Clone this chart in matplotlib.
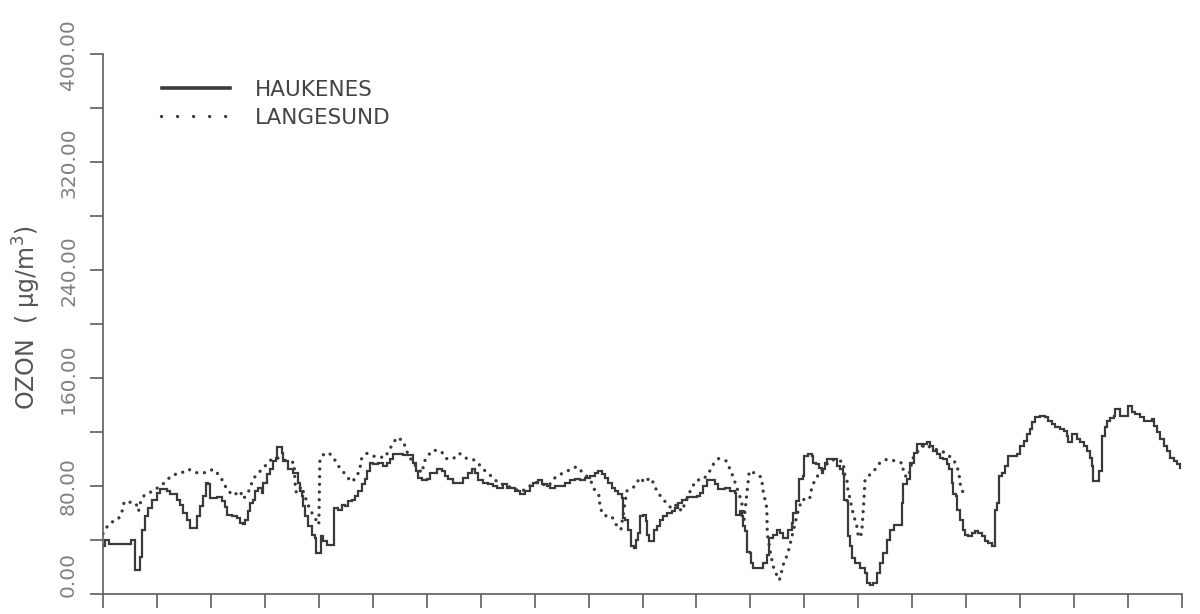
import matplotlib
matplotlib.use("Agg")
import matplotlib.pyplot as plt
import matplotlib.transforms as mtransforms
from matplotlib.lines import Line2D

# Hourly ozone record over 20 days (x in hours from start)
hauk_hours = [
    0, 0.7, 2.8, 12, 12.6, 14.2, 16.5, 17.5, 18.7, 20.2, 21.7, 23.9, 25.4, 28.3, 29.8,
    32.8, 34.3, 35.7, 37.2, 38.7, 40.9, 41.7, 43.2, 44.6, 45.8, 46.9, 47.6, 49.1, 50.6,
    52.8, 54.3, 55, 57.2, 59.5, 61, 62.4, 63.2, 64.6, 65.4, 66.9, 67.6, 69.1, 70.6, 71.3,
    72.8, 74.3, 75.8, 77, 77.6, 79.5, 80.2, 82.4, 84.7, 86.9, 87.6, 88.4, 89.1, 89.9,
    91.3, 92.8, 94.3, 94.8, 96.8, 98, 99.5, 102.9, 104.7, 106.2, 107.7, 109.1, 110.6,
    112.1, 113.6, 115.1, 116.6, 117.6, 118.8, 120.3, 122.5, 124.7, 126.2, 127.7, 129.2,
    133.6, 138.1, 139.3, 140.3, 141.8, 144, 145.5, 148.5, 150.7, 152.2, 153.6, 155.9,
    160.3, 162.5, 164, 165.5, 167, 169.2, 171.4, 173.6, 175.2, 178.1, 179.6, 181.1,
    183.3, 185.5, 187.8, 190, 191.5, 193.7, 195.2, 197.4, 198.9, 201.1, 205.5, 207.8,
    210, 212.2, 214.4, 216.7, 218.9, 220.4, 221.9, 223.3, 224.8, 226.3, 227.8, 229.3,
    230.8, 231.2, 232.3, 233.7, 234.8, 236, 237.1, 238.2, 238.9, 240.4, 241.4, 242.2,
    243.1, 245.1, 246.6, 247.8, 249.3, 250.8, 253, 254.5, 256, 257.4, 259.7, 264.1,
    265.6, 267.1, 268.6, 272.3, 273.8, 276.7, 279, 281.2, 281.6, 283.4, 284.1, 284.6,
    285.6, 286.4, 287.6, 288.3, 289.3, 293.8, 295.3, 296.4, 298.2, 299.7, 301.2, 302.7,
    304.9, 306.4, 307.1, 308.3, 309.4, 309.8, 311.6, 312, 313.8, 315.3, 316, 317.2,
    318.3, 319.7, 320.5, 321.2, 321.9, 326.4, 327.9, 329.4, 329.7, 330.9, 331.2, 332.1,
    333.1, 334.6, 336.8, 339, 339.8, 341.3, 342.7, 344.2, 345.7, 347.2, 348.7, 350.2,
    351.7, 355.4, 356.1, 357.6, 359.1, 360.6, 362.1, 364.3, 365, 366.4, 367.9, 369.4,
    370.9, 372.4, 373.9, 375.3, 376.5, 377.6, 378.3, 379.5, 380.1, 381.3, 382.5, 383.5,
    385, 386.5, 388, 389.4, 390.9, 392.4, 393.9, 395.4, 396.9, 397.9, 398.4, 399.8,
    401.3, 402.4, 406.5, 408, 409.5, 411, 412.4, 413.2, 414.7, 416.9, 419.1, 420.6,
    422.1, 423.6, 425.8, 427.3, 428.8, 429.5, 431, 433.2, 434.7, 436.2, 437.7, 439.2,
    439.9, 440.4, 442.9, 444.4, 445.9, 446.6, 448.1, 449.6, 450.3, 452.3, 456.2, 457.7,
    459.2, 461.5, 462.9, 466.7, 467.4, 468.9, 470.4, 471.9, 473.4, 474.8, 476.3, 477.8,
    479.3,
]
hauk_ozone = [
    35.5, 40.4, 37.5, 37.5, 40.4, 18.1, 28, 47.9, 57.8, 64, 70.2, 75.2, 77.7, 76.5, 74,
    70.2, 66.5, 60.3, 55.3, 49.1, 49.1, 57.8, 65.3, 72.7, 82.7, 81.4, 71.5, 71.5, 72.2,
    69, 64.8, 59, 57.8, 56.6, 52.9, 52.4, 55.3, 61.5, 67.8, 70.2, 76.5, 79, 75.2, 82.7,
    88.9, 92.6, 98.8, 101.3, 108.8, 105, 98.8, 92.6, 90.1, 82.7, 76.5, 72.7, 65.3, 57.8,
    50.4, 44.2, 41.7, 30.5, 42.9, 39.2, 36.7, 64, 62.8, 66.5, 65.3, 69, 70.2,
    72.7, 76.5, 81.4, 85.1, 91.3, 97.6, 96.4, 97.6, 95.1, 97.6, 100, 103.8,
    103, 97.6, 91.3, 86.4, 84.6, 85.1, 90.1, 92.6, 91.3, 87.6, 85.1, 82.7,
    86.4, 90.1, 92.6, 90.1, 84.6, 82.7, 81.4, 80.2, 79, 81.4, 79, 79,
    76.5, 74, 76.5, 80.2, 82.7, 84.6, 81.4, 80.2, 79, 80.2, 82.7, 84.6,
    85.1, 84.6, 86.4, 87.6, 90.1, 91.3, 88.9, 86.4, 82.7, 79, 76.5, 74,
    71.5, 56.6, 55.3, 47.9, 35.5, 34.2, 40.4, 45.4, 57.8, 59, 54.1, 44.2,
    39.2, 47.9, 50.4, 55.3, 57.8, 60.3, 61.5, 64, 67.8, 70.2, 72.2, 72.7,
    75.2, 80.2, 84.6, 81.4, 77.7, 79, 76.5, 75.2, 59, 61.5, 57.8, 50.4,
    46.6, 31.7, 30.5, 23, 19.3, 23, 29.3, 41.7, 44.2, 47.9, 45.4, 41.7,
    47.9, 52.9, 60.3, 69, 76.5, 85.1, 87.6, 102.5, 103.8, 102.5, 97.6, 96.4,
    93.8, 90.1, 92.6, 97.6, 100, 95.1, 92.6, 88.9, 70.2, 69, 42.9, 35.5,
    26.8, 23, 19.3, 15.6, 8.2, 6.9, 8.2, 15.6, 23, 30.5, 40.4, 47.9,
    51.6, 67.8, 81.4, 85.1, 97.6, 105, 111.2, 110, 111.2, 112.5, 110, 106.2,
    103.8, 101.3, 100, 96.3, 92.6, 82.7, 74, 72.7, 62.8, 55.3, 47.9, 44.2,
    42.9, 45.4, 46.6, 45.4, 42.9, 39.2, 38, 35.5, 62.8, 67.8, 87.6, 90.1,
    95.1, 102.5, 103.8, 110, 113.7, 118.7, 122.4, 127.4, 131.1, 131.8, 131.1, 128.6,
    126.1, 123.6, 122.4, 121.1, 117.4, 112.5, 118.7, 114.9, 112.5, 110, 106.2, 101.3,
    95.1, 83.9, 91.3, 117.4, 123.6, 128.6, 130.4, 132.3, 137.3, 132.3, 139.7, 134.8,
    133.6, 131.1, 128.6, 129.8, 124.8, 119.9, 114.9, 110, 106.2, 101.3, 98.8, 96.3,
    93.8,
]

lang_hours = [
    0, 2.4, 4.6, 6.8, 8.3, 9.4, 10.2, 12.5, 14.7, 15.8, 16.5, 18.3, 21.2, 24.9, 27.8,
    30, 32.3, 34.3, 38, 41.7, 45.4, 49.1, 51.3, 53.8, 55, 58, 61, 62.4, 64.5, 66.9,
    69.1, 70.5, 72.8, 75, 77.5, 80, 81.7, 84, 85, 85.4, 86, 88.4, 89.5, 92, 96, 96.5,
    98.5, 100.7, 102.5, 104.7, 106.6, 108.4, 110.4, 112.5, 114.3, 114.8, 117.3, 121,
    125.5, 127, 128.9, 130.7, 133.6, 134.8, 137, 140, 142, 142.8, 144.7, 146.9, 150.6,
    152.6, 155.8, 158.6, 160.8, 163, 165.3, 168, 170.7, 173.6, 176, 179, 183, 186, 189,
    192, 195, 198, 201.1, 204.1, 207.5, 210.7, 213, 215.5, 217.4, 218.9, 220.8, 221.1,
    222.9, 226.3, 228.3, 230.4, 233, 236.8, 238.7, 241.2, 243.1, 245.1, 246.3, 249,
    250.8, 253, 255.2, 257.4, 261.9, 264.1, 267, 269.5, 271.5, 273.8, 277.2, 279.4,
    281.2, 283.4, 284.9, 285.2, 287.5, 290.5, 293, 293.5, 295.3, 295.5, 297.2, 298.2,
    299.7, 300.9, 301.9, 303, 304.5, 305.6, 307.5, 309.4, 310.9, 314.3, 315.3, 316.8,
    318.9, 321.2, 323.4, 325.7, 329.4, 329.6, 330.9, 331.2, 332.4, 333.1, 334.2, 335.1,
    336.1, 337.5, 338.5, 339, 341.3, 343.5, 345.7, 348.7, 352.4, 355.8, 356, 357.6,
    359.1, 360, 362, 365.7, 369.4, 372.4, 375.3, 378.3, 380.1, 381, 381.5, 382.8,
]
lang_ozone = [
    45, 51.6, 54.1, 55.8, 60.3, 68.3, 69, 68, 67.3, 61.5, 67.3, 73.2, 75.7, 79.5, 83.2,
    87.2, 88.9, 89.4, 92.6, 90.1, 90.1, 92.6, 88.9, 82.7, 77.7, 73.2, 76.5, 70.7, 75, 85.6,
    90.1, 92, 96.3, 100, 101, 100, 98.8, 98, 97.6, 83, 75, 80, 74, 63, 51.6, 100,
    104.4, 104.4, 101.3, 95.1, 91.3, 87.6, 83.2, 86, 92.6, 100, 104.4, 102,
    101.3, 106.2, 111.2, 116.2, 113.7, 107, 100, 93, 90, 98, 103, 106.9, 105.7,
    100.5, 100.5, 104.4, 101.3, 100, 99.5, 95, 90.1, 86.4, 82, 81, 78, 76, 79,
    83, 82, 80, 86.4, 89.4, 92.1, 94.6, 90.9, 87, 82.7, 76.4, 72.7, 64,
    58.3, 57.8, 51.6, 47.9, 76.5, 80.2, 86.4, 82.7, 86.4, 82.2, 76.5, 70.7,
    67.3, 63.4, 66.5, 61.5, 79, 84.6, 85, 90, 96.3, 100.5, 98.8, 91,
    82.7, 72, 62.8, 55.3, 91.3, 89.4, 86.4, 77.7, 64, 45, 28, 20.5,
    14.3, 10.5, 16.8, 24.2, 29.3, 36.7, 50, 62.8, 70.2, 70.2, 79, 85,
    90.1, 95, 98.8, 100, 98, 90, 86.4, 79, 70.2, 64, 56.6, 52.9,
    42, 45, 70, 85, 88.9, 92.6, 97.6, 100, 98.8, 97, 90, 86.4,
    91.3, 100, 105, 111.2, 107.5, 107, 103.8, 100, 93.8, 86.9, 79.8, 74.6,
]

series_names = ["HAUKENES", "LANGESUND"]
y_tick_values = [0, 80, 160, 240, 320, 400]
day_ticks = list(range(0, 481, 24))

INK = "#3a3a3a"
GREY = "#5e5e5e"

W, H = 1200, 614
fig = plt.figure(figsize=(W / 100, H / 100), dpi=100)
ax = fig.add_axes([103 / W, 1 - 594.3 / H, 1079 / W, 540 / H])

ax.plot(hauk_hours, hauk_ozone, drawstyle="steps-post", color=INK,
        linewidth=1.6, solid_joinstyle="miter")
ax.plot(lang_hours, lang_ozone, color=INK, linewidth=2.4,
        linestyle=(0, (0.01, 2.3)), dash_capstyle="round")

ax.set_xlim(0, 480)
ax.set_ylim(0, 400)

for side in ("top", "right"):
    ax.spines[side].set_visible(False)
for side in ("left", "bottom"):
    ax.spines[side].set_color(GREY)
    ax.spines[side].set_linewidth(1.2)

ax.set_xticks(day_ticks)
ax.set_xticklabels([])
ax.tick_params(axis="x", direction="out", length=10, width=1.2, color=GREY)

ax.set_yticks(y_tick_values)
ax.set_yticklabels([f"{v:.2f}" for v in y_tick_values])
ax.set_yticks(list(range(40, 400, 80)), minor=True)
ax.tick_params(axis="y", which="both", direction="out", length=9.5, width=1.2,
               color=GREY)
ax.tick_params(axis="y", which="major", labelrotation=90, pad=8.5,
               labelsize=14.5, labelcolor="#808080")
for lab in ax.get_yticklabels():
    lab.set_verticalalignment("center")

# lift the lowest label so it stays inside the figure edge
low = ax.get_yticklabels()[0]
low.set_transform(low.get_transform()
                  + mtransforms.ScaledTranslation(0, 0.2, fig.dpi_scale_trans))

fig.text(27 / W, 1 - 318 / H, "OZON  ( μg/m$^3$)", rotation=90,
         ha="center", va="center", fontsize=17, color="#555555")

# Legend drawn in figure pixel space
def fx(px):
    return px / W

def fy(py):
    return 1 - py / H

fig.add_artist(Line2D([fx(162), fx(230)], [fy(88), fy(88)], color=INK,
                      linewidth=2.6, transform=fig.transFigure))
fig.add_artist(Line2D([fx(161), fx(231)], [fy(116), fy(116)], color=INK,
                      linewidth=2.4, linestyle=(0, (0.01, 4.8)),
                      dash_capstyle="round", transform=fig.transFigure))
fig.text(fx(255), fy(90), series_names[0], ha="left", va="center",
         fontsize=15.5, color="#444444")
fig.text(fx(255), fy(118), series_names[1], ha="left", va="center",
         fontsize=15.5, color="#444444")

fig.savefig("out.png", dpi=100)
